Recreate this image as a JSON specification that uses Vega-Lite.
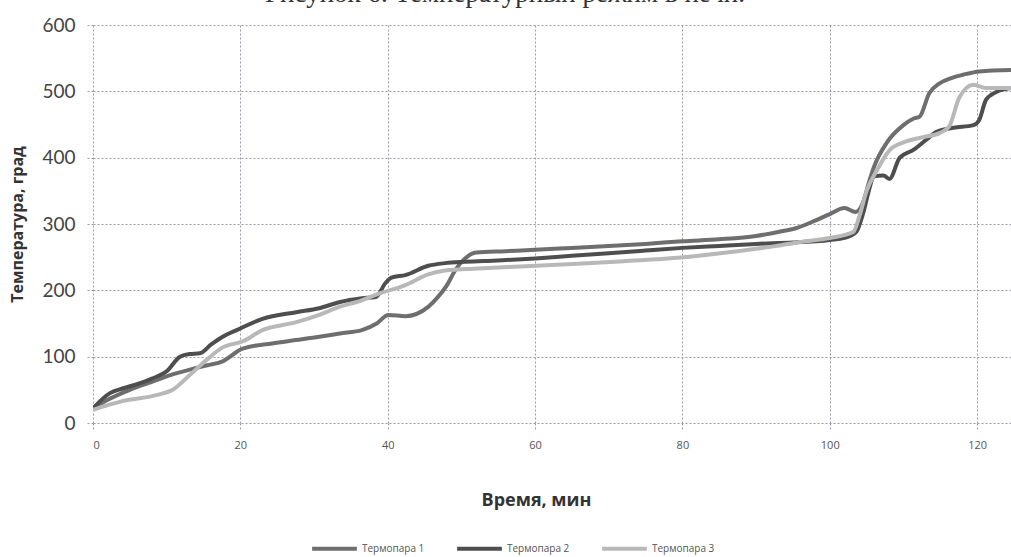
{
  "$schema": "https://vega.github.io/schema/vega-lite/v6.json",
  "autosize": "none",
  "width": 918,
  "height": 398,
  "padding": {"left": 93, "top": 25, "right": 0, "bottom": 134},
  "background": "white",
  "title": {
    "text": "Рисунок 6. Температурный режим в печи.",
    "font": "Liberation Serif",
    "fontSize": 27,
    "fontWeight": "normal",
    "color": "#333333",
    "anchor": "middle",
    "dx": -47,
    "dy": 27,
    "offset": 14,
    "baseline": "alphabetic"
  },
  "config": {
    "view": {"stroke": null},
    "font": "Lato"
  },
  "datasets": {
    "d": [
      {"t": 0, "v": 22, "s": "Термопара 1"},
      {"t": 2, "v": 35, "s": "Термопара 1"},
      {"t": 5, "v": 50, "s": "Термопара 1"},
      {"t": 8, "v": 62, "s": "Термопара 1"},
      {"t": 11, "v": 74, "s": "Термопара 1"},
      {"t": 13, "v": 80, "s": "Термопара 1"},
      {"t": 15.5, "v": 87, "s": "Термопара 1"},
      {"t": 17.6, "v": 93, "s": "Термопара 1"},
      {"t": 20.3, "v": 112, "s": "Термопара 1"},
      {"t": 24.3, "v": 120, "s": "Термопара 1"},
      {"t": 27.5, "v": 125, "s": "Термопара 1"},
      {"t": 30.7, "v": 130, "s": "Термопара 1"},
      {"t": 33.5, "v": 135, "s": "Термопара 1"},
      {"t": 36.5, "v": 140, "s": "Термопара 1"},
      {"t": 38.5, "v": 150, "s": "Термопара 1"},
      {"t": 40.1, "v": 163, "s": "Термопара 1"},
      {"t": 42.4, "v": 161, "s": "Термопара 1"},
      {"t": 45.5, "v": 175, "s": "Термопара 1"},
      {"t": 46.5, "v": 186, "s": "Термопара 1"},
      {"t": 48, "v": 207, "s": "Термопара 1"},
      {"t": 49.2, "v": 231, "s": "Термопара 1"},
      {"t": 50.5, "v": 248, "s": "Термопара 1"},
      {"t": 52, "v": 257, "s": "Термопара 1"},
      {"t": 56, "v": 259, "s": "Термопара 1"},
      {"t": 60, "v": 261, "s": "Термопара 1"},
      {"t": 65, "v": 264, "s": "Термопара 1"},
      {"t": 70, "v": 267, "s": "Термопара 1"},
      {"t": 75, "v": 270, "s": "Термопара 1"},
      {"t": 80, "v": 274, "s": "Термопара 1"},
      {"t": 85, "v": 277, "s": "Термопара 1"},
      {"t": 90, "v": 282, "s": "Термопара 1"},
      {"t": 93, "v": 288, "s": "Термопара 1"},
      {"t": 95.5, "v": 294, "s": "Термопара 1"},
      {"t": 98, "v": 305, "s": "Термопара 1"},
      {"t": 100, "v": 315, "s": "Термопара 1"},
      {"t": 102, "v": 324, "s": "Термопара 1"},
      {"t": 103.5, "v": 318, "s": "Термопара 1"},
      {"t": 104.5, "v": 332, "s": "Термопара 1"},
      {"t": 105.3, "v": 362, "s": "Термопара 1"},
      {"t": 106, "v": 386, "s": "Термопара 1"},
      {"t": 107.7, "v": 422, "s": "Термопара 1"},
      {"t": 110, "v": 449, "s": "Термопара 1"},
      {"t": 111.4, "v": 459, "s": "Термопара 1"},
      {"t": 112.2, "v": 462, "s": "Термопара 1"},
      {"t": 113.5, "v": 497, "s": "Термопара 1"},
      {"t": 114.9, "v": 512, "s": "Термопара 1"},
      {"t": 116.5, "v": 520, "s": "Термопара 1"},
      {"t": 118.1, "v": 525, "s": "Термопара 1"},
      {"t": 120.3, "v": 530, "s": "Термопара 1"},
      {"t": 124.6, "v": 532, "s": "Термопара 1"},

      {"t": 0, "v": 22, "s": "Термопара 2"},
      {"t": 2.3, "v": 45, "s": "Термопара 2"},
      {"t": 4, "v": 52, "s": "Термопара 2"},
      {"t": 6.4, "v": 60, "s": "Термопара 2"},
      {"t": 8, "v": 67, "s": "Термопара 2"},
      {"t": 10, "v": 78, "s": "Термопара 2"},
      {"t": 11.8, "v": 100, "s": "Термопара 2"},
      {"t": 13.1, "v": 104, "s": "Термопара 2"},
      {"t": 14.5, "v": 105, "s": "Термопара 2"},
      {"t": 16, "v": 118, "s": "Термопара 2"},
      {"t": 17.6, "v": 130, "s": "Термопара 2"},
      {"t": 19.5, "v": 140, "s": "Термопара 2"},
      {"t": 23, "v": 157, "s": "Термопара 2"},
      {"t": 27.6, "v": 167, "s": "Термопара 2"},
      {"t": 30.7, "v": 173, "s": "Термопара 2"},
      {"t": 33.4, "v": 182, "s": "Термопара 2"},
      {"t": 36.5, "v": 188, "s": "Термопара 2"},
      {"t": 38.4, "v": 190, "s": "Термопара 2"},
      {"t": 39.7, "v": 211, "s": "Термопара 2"},
      {"t": 40.5, "v": 219, "s": "Термопара 2"},
      {"t": 42.4, "v": 223, "s": "Термопара 2"},
      {"t": 45.5, "v": 237, "s": "Термопара 2"},
      {"t": 47.8, "v": 241, "s": "Термопара 2"},
      {"t": 50.5, "v": 243, "s": "Термопара 2"},
      {"t": 55, "v": 245, "s": "Термопара 2"},
      {"t": 60, "v": 248, "s": "Термопара 2"},
      {"t": 65, "v": 252, "s": "Термопара 2"},
      {"t": 70, "v": 256, "s": "Термопара 2"},
      {"t": 75, "v": 260, "s": "Термопара 2"},
      {"t": 80, "v": 264, "s": "Термопара 2"},
      {"t": 85, "v": 267, "s": "Термопара 2"},
      {"t": 90, "v": 270, "s": "Термопара 2"},
      {"t": 95, "v": 272, "s": "Термопара 2"},
      {"t": 100, "v": 276, "s": "Термопара 2"},
      {"t": 102, "v": 279, "s": "Термопара 2"},
      {"t": 103.6, "v": 288, "s": "Термопара 2"},
      {"t": 104.5, "v": 315, "s": "Термопара 2"},
      {"t": 105.3, "v": 350, "s": "Термопара 2"},
      {"t": 106, "v": 372, "s": "Термопара 2"},
      {"t": 107.3, "v": 373, "s": "Термопара 2"},
      {"t": 108.1, "v": 368, "s": "Термопара 2"},
      {"t": 109.5, "v": 400, "s": "Термопара 2"},
      {"t": 111.4, "v": 412, "s": "Термопара 2"},
      {"t": 113.1, "v": 427, "s": "Термопара 2"},
      {"t": 114.5, "v": 439, "s": "Термопара 2"},
      {"t": 116.8, "v": 445, "s": "Термопара 2"},
      {"t": 119.5, "v": 449, "s": "Термопара 2"},
      {"t": 120.3, "v": 457, "s": "Термопара 2"},
      {"t": 121.2, "v": 487, "s": "Термопара 2"},
      {"t": 122.6, "v": 499, "s": "Термопара 2"},
      {"t": 124.6, "v": 505, "s": "Термопара 2"},

      {"t": 0, "v": 20, "s": "Термопара 3"},
      {"t": 4, "v": 33, "s": "Термопара 3"},
      {"t": 8.6, "v": 42, "s": "Термопара 3"},
      {"t": 10.8, "v": 50, "s": "Термопара 3"},
      {"t": 13.1, "v": 72, "s": "Термопара 3"},
      {"t": 15.4, "v": 95, "s": "Термопара 3"},
      {"t": 17.6, "v": 114, "s": "Термопара 3"},
      {"t": 20.3, "v": 123, "s": "Термопара 3"},
      {"t": 23, "v": 140, "s": "Термопара 3"},
      {"t": 27.6, "v": 152, "s": "Термопара 3"},
      {"t": 30.7, "v": 163, "s": "Термопара 3"},
      {"t": 33.4, "v": 175, "s": "Термопара 3"},
      {"t": 36.5, "v": 185, "s": "Термопара 3"},
      {"t": 38.8, "v": 195, "s": "Термопара 3"},
      {"t": 42.4, "v": 208, "s": "Термопара 3"},
      {"t": 45.5, "v": 224, "s": "Термопара 3"},
      {"t": 47.8, "v": 230, "s": "Термопара 3"},
      {"t": 52.3, "v": 233, "s": "Термопара 3"},
      {"t": 58, "v": 236, "s": "Термопара 3"},
      {"t": 65.8, "v": 240, "s": "Термопара 3"},
      {"t": 72, "v": 244, "s": "Термопара 3"},
      {"t": 79.3, "v": 249, "s": "Термопара 3"},
      {"t": 86, "v": 257, "s": "Термопара 3"},
      {"t": 92.8, "v": 267, "s": "Термопара 3"},
      {"t": 96, "v": 273, "s": "Термопара 3"},
      {"t": 100, "v": 279, "s": "Термопара 3"},
      {"t": 103.2, "v": 288, "s": "Термопара 3"},
      {"t": 104, "v": 311, "s": "Термопара 3"},
      {"t": 105, "v": 350, "s": "Термопара 3"},
      {"t": 106.4, "v": 381, "s": "Термопара 3"},
      {"t": 108.1, "v": 411, "s": "Термопара 3"},
      {"t": 110, "v": 423, "s": "Термопара 3"},
      {"t": 112.7, "v": 431, "s": "Термопара 3"},
      {"t": 114.9, "v": 437, "s": "Термопара 3"},
      {"t": 116.2, "v": 447, "s": "Термопара 3"},
      {"t": 117.6, "v": 491, "s": "Термопара 3"},
      {"t": 119.5, "v": 510, "s": "Термопара 3"},
      {"t": 121.2, "v": 505, "s": "Термопара 3"},
      {"t": 124.6, "v": 505, "s": "Термопара 3"}
    ]
  },
  "data": {"name": "d"},
  "mark": {"type": "line", "strokeWidth": 4, "interpolate": "monotone", "clip": true},
  "encoding": {
    "x": {
      "field": "t",
      "type": "quantitative",
      "scale": {"domain": [0, 124.6], "nice": false, "zero": false},
      "axis": {
        "values": [0, 20, 40, 60, 80, 100, 120],
        "title": "Время, мин",
        "titleFont": "Open Sans",
        "titleFontSize": 18,
        "titleFontWeight": "bold",
        "titleColor": "#333333",
        "titleX": 443,
        "titleY": 68,
        "titleAnchor": "middle",
        "labelFont": "Open Sans",
        "labelFontSize": 11,
        "labelColor": "#555555",
        "labelPadding": 10,
        "domain": false,
        "ticks": true,
        "tickSize": 6,
        "tickColor": "#9a9aa6",
        "tickDash": [2, 2],
        "grid": true,
        "gridColor": "#9a9aa6",
        "gridDash": [2, 2],
        "gridWidth": 1
      }
    },
    "y": {
      "field": "v",
      "type": "quantitative",
      "scale": {"domain": [0, 600], "nice": false},
      "axis": {
        "values": [0, 100, 200, 300, 400, 500, 600],
        "title": "Температура, град",
        "titleFont": "Open Sans",
        "titleFontSize": 16,
        "titleFontWeight": "bold",
        "titleColor": "#333333",
        "titlePadding": 16,
        "labelFont": "Lato",
        "labelFontSize": 19,
        "labelColor": "#444444",
        "labelPadding": 12,
        "domain": false,
        "ticks": true,
        "tickSize": 6,
        "tickColor": "#9a9aa6",
        "tickDash": [2, 2],
        "grid": true,
        "gridColor": "#9a9aa6",
        "gridDash": [2, 2],
        "gridWidth": 1
      }
    },
    "color": {
      "field": "s",
      "type": "nominal",
      "scale": {
        "domain": ["Термопара 1", "Термопара 2", "Термопара 3"],
        "range": ["#6e6e6e", "#4e4e4e", "#b8b8b8"]
      },
      "legend": {
        "title": null,
        "orient": "none",
        "direction": "horizontal",
        "legendX": 217,
        "legendY": 499,
        "symbolType": "stroke",
        "symbolSize": 2000,
        "symbolStrokeWidth": 4,
        "labelFont": "Open Sans",
        "labelFontSize": 10,
        "labelColor": "#555555",
        "labelOffset": 3,
        "columnPadding": 24
      }
    }
  }
}
